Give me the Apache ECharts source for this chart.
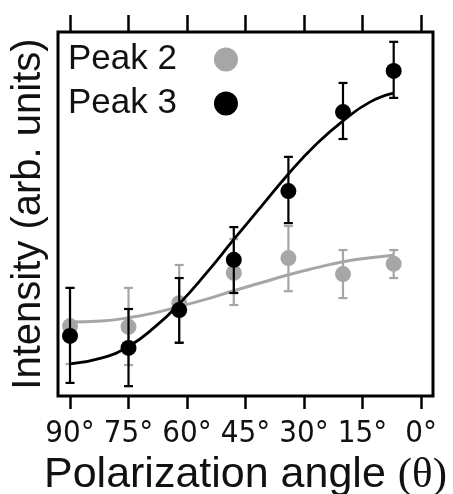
<!DOCTYPE html>
<html>
<head>
<meta charset="utf-8">
<script src="https://cdn.jsdelivr.net/npm/echarts@6/dist/echarts.min.js"></script>
<style>
  html, body { margin: 0; padding: 0; background: #fff; }
  #chart { width: 453px; height: 494px; }
</style>
</head>
<body>
<div id="chart"></div>
<script>
// measured points (angle in degrees, intensity in arbitrary units)
const angles = [90, 75, 62, 48, 34, 20, 7]
const peak2 = [19.2, 19.0, 25.5, 33.8, 37.9, 33.5, 36.3]
const peak2Low = [8.8, 8.5, 14.8, 25.0, 28.8, 26.9, 32.4]
const peak2High = [29.7, 29.7, 36.0, 43.1, 46.7, 40.1, 40.1]
const peak3 = [16.5, 13.2, 23.6, 37.4, 56.3, 78.0, 89.3]
const peak3Low = [3.6, 2.7, 14.6, 28.3, 47.5, 70.6, 81.9]
const peak3High = [29.7, 23.9, 32.4, 46.4, 65.7, 86.0, 97.3]

// fitted curves
const fitAngles = [90, 82, 75, 68, 62, 55, 48, 41, 34, 27, 20, 13, 7]
const fit2 = [20.3, 20.6, 21.5, 22.9, 24.6, 26.6, 28.9, 31.1, 33.3, 35.2, 36.9, 38.0, 38.7]
const fit3 = [8.8, 10.4, 13.6, 19.2, 25.3, 33.8, 43.0, 52.0, 61.0, 69.0, 75.6, 80.8, 83.2]

const tickValues = [0, 15, 30, 45, 60, 75, 90]

const gray = '#a6a6a6'
const black = '#000'

const pairs = (xs, ys) => xs.map((x, i) => [x, ys[i]])
const bars = (lo, hi) => angles.map((a, i) => [a, lo[i], hi[i]])

const errorBars = (color) => function (params, api) {
    const top = api.coord([api.value(0), api.value(2)])
    const bot = api.coord([api.value(0), api.value(1)])
    const half = 4.5
    const style = { stroke: color, lineWidth: 2.2 }
    return {
        type: 'group',
        children: [
            { type: 'line', shape: { x1: top[0], y1: top[1], x2: bot[0], y2: bot[1] }, style },
            { type: 'line', shape: { x1: top[0] - half, y1: top[1], x2: top[0] + half, y2: top[1] }, style },
            { type: 'line', shape: { x1: bot[0] - half, y1: bot[1], x2: bot[0] + half, y2: bot[1] }, style }
        ]
    }
}

const myChart = echarts.init(document.getElementById('chart'), null, { renderer: 'canvas' })

const option = {
    animation: false,
    grid: {
        left: 58, right: 20, top: 32, bottom: 98,
        outerBoundsMode: 'none', containLabel: false,
        show: true, borderColor: '#000', borderWidth: 3, backgroundColor: '#fff'
    },
    legend: {
        data: ['Peak 2', 'Peak 3'],
        orient: 'vertical',
        left: 63, top: 37,
        align: 'right',
        icon: 'circle',
        itemWidth: 24, itemHeight: 24,
        itemGap: 9,
        textStyle: {
            fontFamily: 'Liberation Sans', fontSize: 35, color: '#111',
            lineHeight: 30, padding: [0, 32, 0, 0]
        }
    },
    xAxis: [
        {
            type: 'value', min: -3.08, max: 93.08, inverse: true,
            position: 'bottom',
            name: 'Polarization angle {t|(θ)}',
            nameLocation: 'middle', nameGap: 38,
            nameTextStyle: {
                fontFamily: 'Liberation Sans', fontSize: 43, color: '#111',
                rich: { t: { fontFamily: 'Liberation Serif', fontSize: 43, color: '#111' } }
            },
            axisLine: { show: false },
            splitLine: { show: false },
            axisTick: { show: true, inside: false, length: 13, customValues: tickValues, lineStyle: { color: '#000', width: 2.5 } },
            axisLabel: {
                customValues: tickValues, margin: 22,
                formatter: v => v + '°',
                fontFamily: 'Liberation Sans Narrow, DejaVu Sans Condensed', fontSize: 31, color: '#111'
            }
        },
        {
            type: 'value', min: -3.08, max: 93.08, inverse: true,
            position: 'top',
            axisLine: { show: false },
            splitLine: { show: false },
            axisTick: { show: true, inside: false, length: 17, customValues: tickValues, lineStyle: { color: '#000', width: 2.5 } },
            axisLabel: { show: false }
        }
    ],
    yAxis: {
        type: 'value', min: 0, max: 100,
        name: 'Intensity (arb. units)',
        nameLocation: 'middle', nameGap: 9,
        nameTextStyle: { fontFamily: 'Liberation Sans', fontSize: 40, color: '#111' },
        axisLine: { show: false },
        axisTick: { show: false },
        axisLabel: { show: false },
        splitLine: { show: false }
    },
    series: [
        {
            name: 'fit2', type: 'line', smooth: true, symbol: 'none',
            data: pairs(fitAngles, fit2),
            lineStyle: { color: gray, width: 3 }, z: 2
        },
        {
            name: 'err2', type: 'custom', renderItem: errorBars(gray),
            data: bars(peak2Low, peak2High), z: 3
        },
        {
            name: 'Peak 2', type: 'scatter', symbolSize: 16,
            data: pairs(angles, peak2),
            itemStyle: { color: gray, opacity: 1 }, z: 4
        },
        {
            name: 'fit3', type: 'line', smooth: true, symbol: 'none',
            data: pairs(fitAngles, fit3),
            lineStyle: { color: black, width: 2.8 }, z: 5
        },
        {
            name: 'err3', type: 'custom', renderItem: errorBars(black),
            data: bars(peak3Low, peak3High), z: 6
        },
        {
            name: 'Peak 3', type: 'scatter', symbolSize: 16,
            data: pairs(angles, peak3),
            itemStyle: { color: black, opacity: 1 }, z: 7
        }
    ]
}
myChart.setOption(option)
</script>
</body>
</html>
